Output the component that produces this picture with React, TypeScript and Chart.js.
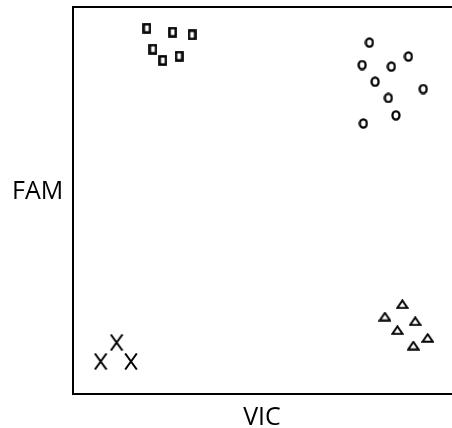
import React, { useEffect, useRef } from "react";
import { Chart, registerables } from "chart.js";

Chart.register(...registerables);

// Data (arbitrary units, 0-100 on both axes)
const squaresX = [19.5, 26.3, 31.4, 21.1, 23.7, 28.0];
const squaresY = [94.5, 93.5, 92.8, 89.1, 86.2, 87.3];

const circlesX = [78.2, 88.5, 76.3, 84.0, 79.7, 92.4, 83.2, 85.2, 76.6];
const circlesY = [90.8, 87.2, 85.0, 84.6, 80.7, 78.8, 76.5, 72.0, 69.9];

const trianglesX = [86.9, 82.3, 90.3, 85.6, 93.6, 89.8];
const trianglesY = [23.2, 20.0, 18.8, 16.5, 14.5, 12.5];

const crossesX = [7.3, 11.5, 15.3];
const crossesY = [8.4, 13.3, 8.4];

const xLabel = "VIC";
const yLabel = "FAM";

function makeCanvas(w: number, h: number, draw: (ctx: CanvasRenderingContext2D) => void) {
  const c = document.createElement("canvas");
  c.width = w;
  c.height = h;
  const ctx = c.getContext("2d")!;
  ctx.strokeStyle = "#000";
  draw(ctx);
  return c;
}

function squareMarker() {
  return makeCanvas(9, 11, (ctx) => {
    ctx.lineWidth = 2.5;
    ctx.strokeRect(1.4, 1.4, 6.2, 8.2);
  });
}
function circleMarker() {
  return makeCanvas(10, 11, (ctx) => {
    ctx.lineWidth = 2.3;
    ctx.beginPath();
    ctx.ellipse(5, 5.5, 3.5, 4.1, 0, 0, Math.PI * 2);
    ctx.stroke();
  });
}
function triangleMarker() {
  return makeCanvas(13, 10, (ctx) => {
    ctx.lineWidth = 2;
    ctx.lineJoin = "miter";
    ctx.beginPath();
    ctx.moveTo(6.5, 1.3);
    ctx.lineTo(11.6, 8.8);
    ctx.lineTo(1.4, 8.8);
    ctx.closePath();
    ctx.stroke();
  });
}
function crossMarker() {
  return makeCanvas(14, 17, (ctx) => {
    ctx.lineWidth = 2;
    ctx.beginPath();
    ctx.moveTo(1.2, 0.5);
    ctx.lineTo(12.8, 16.5);
    ctx.moveTo(12.8, 0.5);
    ctx.lineTo(1.2, 16.5);
    ctx.stroke();
  });
}

const toPoints = (xs: number[], ys: number[]) => xs.map((x, i) => ({ x, y: ys[i] }));

const framePlugin = {
  id: "frame",
  beforeDatasetsDraw(chart: any) {
    const { ctx, chartArea } = chart;
    ctx.save();
    ctx.strokeStyle = "#000";
    ctx.lineWidth = 2;
    ctx.beginPath();
    ctx.moveTo(chart.width, chartArea.top);
    ctx.lineTo(chartArea.left, chartArea.top);
    ctx.lineTo(chartArea.left, chartArea.bottom);
    ctx.lineTo(chart.width, chartArea.bottom);
    ctx.stroke();
    ctx.restore();
  },
};

export default function App() {
  const ref = useRef<HTMLCanvasElement>(null);

  useEffect(() => {
    if (!ref.current) return;
    const common = { pointRadius: 5, pointHoverRadius: 5, showLine: false };
    const chart = new Chart(ref.current, {
      type: "scatter",
      data: {
        datasets: [
          { label: "squares", data: toPoints(squaresX, squaresY), pointStyle: squareMarker(), ...common },
          { label: "circles", data: toPoints(circlesX, circlesY), pointStyle: circleMarker(), ...common },
          { label: "triangles", data: toPoints(trianglesX, trianglesY), pointStyle: triangleMarker(), ...common },
          { label: "crosses", data: toPoints(crossesX, crossesY), pointStyle: crossMarker(), ...common },
        ] as any,
      },
      options: {
        animation: false,
        responsive: false,
        events: [],
        layout: { autoPadding: false, padding: { left: 73, top: 7, right: 0, bottom: 34 } },
        plugins: { legend: { display: false }, tooltip: { enabled: false } },
        scales: {
          x: { type: "linear", min: 0, max: 100, display: false },
          y: { type: "linear", min: 0, max: 100, display: false },
        },
      },
      plugins: [framePlugin],
    });
    return () => chart.destroy();
  }, []);

  const labelStyle: React.CSSProperties = {
    position: "absolute",
    fontFamily: "'Open Sans', sans-serif",
    fontSize: 25,
    lineHeight: "25px",
    color: "#000",
    whiteSpace: "nowrap",
  };

  return (
    <div style={{ position: "absolute", left: 0, top: 0, width: 452, height: 428, background: "#fff" }}>
      <canvas ref={ref} width={452} height={428} style={{ display: "block", width: 452, height: 428 }} />
      <div style={{ ...labelStyle, left: 12, top: 176.7 }}>{yLabel}</div>
      <div style={{ ...labelStyle, left: 262, top: 402.7, transform: "translateX(-50%)" }}>{xLabel}</div>
    </div>
  );
}
